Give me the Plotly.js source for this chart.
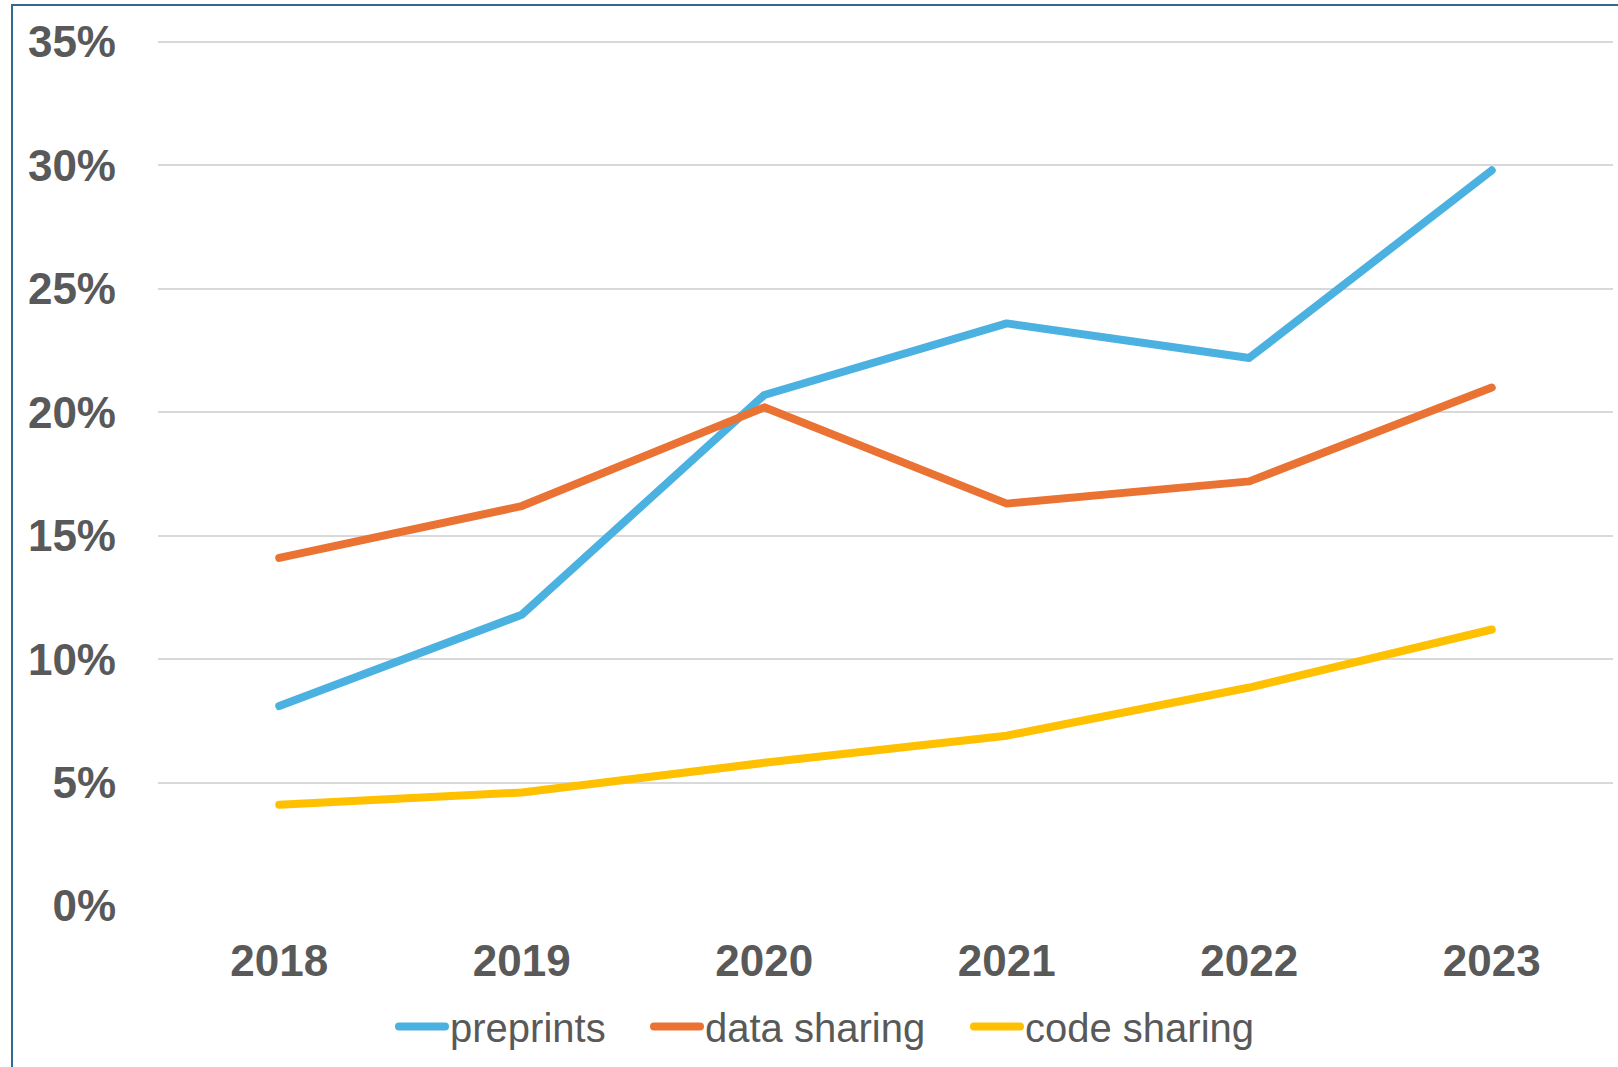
<!DOCTYPE html>
<html>
<head>
<meta charset="utf-8">
<script src="https://cdn.plot.ly/plotly-3.0.1.min.js"></script>
<style>
  html, body { margin: 0; padding: 0; background: #ffffff; }
  #chart { position: absolute; left: 0; top: 0; width: 1618px; height: 1067px; }
  #frame { position: absolute; left: 11px; top: 4px; width: 3000px; height: 3000px;
           border-left: 2.5px solid #2D6B94; border-top: 2.5px solid #2D6B94;
           pointer-events: none; }
  #chart path.js-line { stroke-linecap: round !important; stroke-linejoin: round !important; }
</style>
</head>
<body>
<div id="chart"></div>
<div id="frame"></div>
<script>
// Data (percent)
const years = ['2018', '2019', '2020', '2021', '2022', '2023'];
const preprints = [8.1, 11.8, 20.7, 23.6, 22.2, 29.8];
const dataSharing = [14.1, 16.2, 20.2, 16.3, 17.2, 21.0];
const codeSharing = [4.1, 4.6, 5.8, 6.9, 8.85, 11.2];
const seriesNames = ['preprints', 'data sharing', 'code sharing'];
const yTicks = [0, 5, 10, 15, 20, 25, 30, 35];

const colors = ['#4AB1E1', '#EA7233', '#FFC000'];
const seriesValues = [preprints, dataSharing, codeSharing];
const legendIds = ['legend', 'legend2', 'legend3'];
const legendX = [394, 649, 969];

const traces = seriesValues.map((vals, i) => ({
  type: 'scatter',
  mode: 'lines',
  x: years,
  y: vals,
  name: seriesNames[i],
  legend: legendIds[i],
  line: { color: colors[i], width: 8 },
  hoverinfo: 'x+y+name'
}));

const tickFont = { family: 'Liberation Sans, Arial, sans-serif', size: 44, color: '#595959', weight: 'bold' };

const layout = {
  width: 1618,
  height: 1067,
  paper_bgcolor: '#ffffff',
  plot_bgcolor: '#ffffff',
  margin: { l: 158, r: 5, t: 39, b: 161 },
  font: { family: 'Liberation Sans, Arial, sans-serif', color: '#595959' },
  xaxis: {
    type: 'category',
    categoryorder: 'array',
    categoryarray: years,
    range: [-0.5, 5.5],
    showgrid: false,
    zeroline: false,
    showline: false,
    ticks: '',
    ticklabelstandoff: 25,
    tickfont: tickFont
  },
  yaxis: {
    range: [0, 35.12],
    tickvals: yTicks,
    ticktext: yTicks.map(v => v + '%'),
    showgrid: true,
    gridcolor: '#D9D9D9',
    gridwidth: 1.5,
    zeroline: false,
    showline: false,
    ticks: '',
    ticklabelstandoff: 41,
    tickfont: tickFont
  },
  showlegend: true
};

legendIds.forEach((id, i) => {
  layout[id] = {
    orientation: 'h',
    xref: 'container',
    yref: 'container',
    x: legendX[i] / 1618,
    xanchor: 'left',
    y: 0.038,
    yanchor: 'middle',
    itemwidth: 46,
    font: { family: 'Liberation Sans, Arial, sans-serif', size: 40, color: '#595959' },
    bgcolor: 'rgba(0,0,0,0)'
  };
});

Plotly.newPlot('chart', traces, layout, { displayModeBar: false, responsive: false });
</script>
</body>
</html>
